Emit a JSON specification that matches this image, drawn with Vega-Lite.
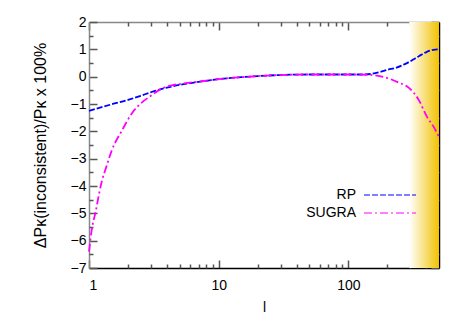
{
  "$schema": "https://vega.github.io/schema/vega-lite/v6.json",
  "width": 350,
  "height": 246,
  "autosize": "none",
  "padding": {"left": 89, "top": 22, "right": 28, "bottom": 59},
  "background": "#ffffff",
  "config": {
    "view": {"stroke": null},
    "font": "Liberation Sans",
    "axis": {"grid": false, "labelFont": "Liberation Sans", "titleFont": "Liberation Sans", "labelFontSize": 14, "titleFontSize": 14, "titleFontWeight": "normal", "labelColor": "#000", "titleColor": "#000", "tickColor": "#555", "domainColor": "#000", "domainWidth": 1.5, "tickWidth": 1.5},
    "legend": {"labelFont": "Liberation Sans", "labelFontSize": 14}
  },
  "datasets": {
    "curves": [
      {"l": 1, "value": -1.25, "model": "RP"},
      {"l": 1.2, "value": -1.14, "model": "RP"},
      {"l": 1.5, "value": -1.01, "model": "RP"},
      {"l": 2, "value": -0.85, "model": "RP"},
      {"l": 2.5, "value": -0.7, "model": "RP"},
      {"l": 3, "value": -0.57, "model": "RP"},
      {"l": 4, "value": -0.4, "model": "RP"},
      {"l": 5, "value": -0.3, "model": "RP"},
      {"l": 6, "value": -0.24, "model": "RP"},
      {"l": 8, "value": -0.15, "model": "RP"},
      {"l": 10, "value": -0.09, "model": "RP"},
      {"l": 15, "value": -0.02, "model": "RP"},
      {"l": 20, "value": 0.02, "model": "RP"},
      {"l": 30, "value": 0.06, "model": "RP"},
      {"l": 50, "value": 0.08, "model": "RP"},
      {"l": 80, "value": 0.08, "model": "RP"},
      {"l": 100, "value": 0.08, "model": "RP"},
      {"l": 130, "value": 0.08, "model": "RP"},
      {"l": 150, "value": 0.1, "model": "RP"},
      {"l": 175, "value": 0.17, "model": "RP"},
      {"l": 200, "value": 0.25, "model": "RP"},
      {"l": 235, "value": 0.33, "model": "RP"},
      {"l": 270, "value": 0.45, "model": "RP"},
      {"l": 300, "value": 0.56, "model": "RP"},
      {"l": 350, "value": 0.75, "model": "RP"},
      {"l": 400, "value": 0.9, "model": "RP"},
      {"l": 450, "value": 0.98, "model": "RP"},
      {"l": 500, "value": 1.0, "model": "RP"},
      {"l": 1, "value": -6.4, "model": "SUGRA"},
      {"l": 1.05, "value": -5.6, "model": "SUGRA"},
      {"l": 1.13, "value": -4.9, "model": "SUGRA"},
      {"l": 1.2, "value": -4.25, "model": "SUGRA"},
      {"l": 1.26, "value": -3.8, "model": "SUGRA"},
      {"l": 1.36, "value": -3.3, "model": "SUGRA"},
      {"l": 1.5, "value": -2.69, "model": "SUGRA"},
      {"l": 1.8, "value": -1.96, "model": "SUGRA"},
      {"l": 2.15, "value": -1.33, "model": "SUGRA"},
      {"l": 2.55, "value": -0.95, "model": "SUGRA"},
      {"l": 3, "value": -0.7, "model": "SUGRA"},
      {"l": 3.7, "value": -0.42, "model": "SUGRA"},
      {"l": 4.5, "value": -0.3, "model": "SUGRA"},
      {"l": 5, "value": -0.27, "model": "SUGRA"},
      {"l": 6, "value": -0.22, "model": "SUGRA"},
      {"l": 8, "value": -0.15, "model": "SUGRA"},
      {"l": 10, "value": -0.09, "model": "SUGRA"},
      {"l": 15, "value": -0.02, "model": "SUGRA"},
      {"l": 20, "value": 0.02, "model": "SUGRA"},
      {"l": 30, "value": 0.06, "model": "SUGRA"},
      {"l": 50, "value": 0.08, "model": "SUGRA"},
      {"l": 100, "value": 0.08, "model": "SUGRA"},
      {"l": 140, "value": 0.07, "model": "SUGRA"},
      {"l": 170, "value": 0.03, "model": "SUGRA"},
      {"l": 200, "value": -0.05, "model": "SUGRA"},
      {"l": 240, "value": -0.2, "model": "SUGRA"},
      {"l": 295, "value": -0.42, "model": "SUGRA"},
      {"l": 350, "value": -0.86, "model": "SUGRA"},
      {"l": 405, "value": -1.48, "model": "SUGRA"},
      {"l": 450, "value": -1.8, "model": "SUGRA"},
      {"l": 500, "value": -2.2, "model": "SUGRA"}
    ],
    "band": [{"start": 295, "end": 500, "top": 2, "bottom": -7}]
  },
  "resolve": {"axis": {"x": "independent", "y": "independent"}},
  "layer": [
    {
      "data": {"name": "band"},
      "mark": {"type": "rect", "fill": {"gradient": "linear", "x1": 0, "y1": 0, "x2": 1, "y2": 0, "stops": [{"offset": 0, "color": "#ffffff"}, {"offset": 0.35, "color": "#fbeaa8"}, {"offset": 1, "color": "#f2c200"}]}},
      "encoding": {
        "x": {"field": "start", "type": "quantitative", "scale": {"type": "log", "domain": [1, 500], "nice": false}, "axis": {"orient": "bottom", "values": [1, 10, 100], "format": "d", "tickSize": -8, "labelPadding": 18, "title": "l", "titlePadding": 8, "domainColor": "#000"}},
        "x2": {"field": "end"},
        "y": {"field": "top", "type": "quantitative", "scale": {"domain": [-7, 2], "nice": false, "zero": false}, "axis": {"orient": "left", "values": [-7, -6, -5, -4, -3, -2, -1, 0, 1, 2], "tickSize": -8, "labelPadding": 11, "title": "ΔPκ(inconsistent)/Pκ  x 100%", "titleFontSize": 16, "titlePadding": 22, "domainColor": "#888"}},
        "y2": {"field": "bottom"}
      }
    },
    {
      "data": {"name": "curves"},
      "mark": {"type": "line", "interpolate": "monotone", "strokeWidth": 1.8},
      "encoding": {
        "x": {"field": "l", "type": "quantitative", "axis": {"orient": "bottom", "values": [2, 3, 4, 5, 6, 7, 8, 9, 20, 30, 40, 50, 60, 70, 80, 90, 200, 300, 400], "labels": false, "tickSize": -4, "title": null, "domain": false}},
        "y": {"field": "value", "type": "quantitative", "axis": {"orient": "left", "values": [-6.5, -5.5, -4.5, -3.5, -2.5, -1.5, -0.5, 0.5, 1.5], "labels": false, "tickSize": -4, "title": null, "domain": false}},
        "color": {"field": "model", "type": "nominal", "scale": {"domain": ["RP", "SUGRA"], "range": ["#0000ff", "#ff00ff"]}, "legend": {"title": null, "orient": "none", "legendX": 294, "legendY": 166, "symbolType": "M-26,0H26", "symbolSize": 4, "symbolStrokeWidth": 1, "labelAlign": "right", "labelOffset": -41, "rowPadding": 4}},
        "strokeDash": {"field": "model", "type": "nominal", "scale": {"domain": ["RP", "SUGRA"], "range": [[6, 2], [8, 3, 2, 3]]}, "legend": {"title": null, "orient": "none", "legendX": 294, "legendY": 166, "symbolType": "M-26,0H26", "symbolSize": 4, "symbolStrokeWidth": 1, "labelAlign": "right", "labelOffset": -41, "rowPadding": 4}}
      }
    },
    {
      "data": {"name": "curves"},
      "mark": {"type": "point", "opacity": 0},
      "encoding": {
        "x": {"field": "l", "type": "quantitative", "axis": {"orient": "top", "values": [1, 10, 100], "labels": false, "tickSize": -8, "title": null, "domainColor": "#888"}},
        "y": {"field": "value", "type": "quantitative", "axis": {"orient": "right", "values": [-7, -6, -5, -4, -3, -2, -1, 0, 1, 2], "labels": false, "tickSize": -8, "title": null, "domainColor": "#000"}}
      }
    },
    {
      "data": {"name": "curves"},
      "mark": {"type": "point", "opacity": 0},
      "encoding": {
        "x": {"field": "l", "type": "quantitative", "axis": {"orient": "top", "values": [2, 3, 4, 5, 6, 7, 8, 9, 20, 30, 40, 50, 60, 70, 80, 90, 200, 300, 400], "labels": false, "tickSize": -4, "title": null, "domain": false}},
        "y": {"field": "value", "type": "quantitative", "axis": {"orient": "right", "values": [-6.5, -5.5, -4.5, -3.5, -2.5, -1.5, -0.5, 0.5, 1.5], "labels": false, "tickSize": -4, "title": null, "domain": false}}
      }
    }
  ]
}
